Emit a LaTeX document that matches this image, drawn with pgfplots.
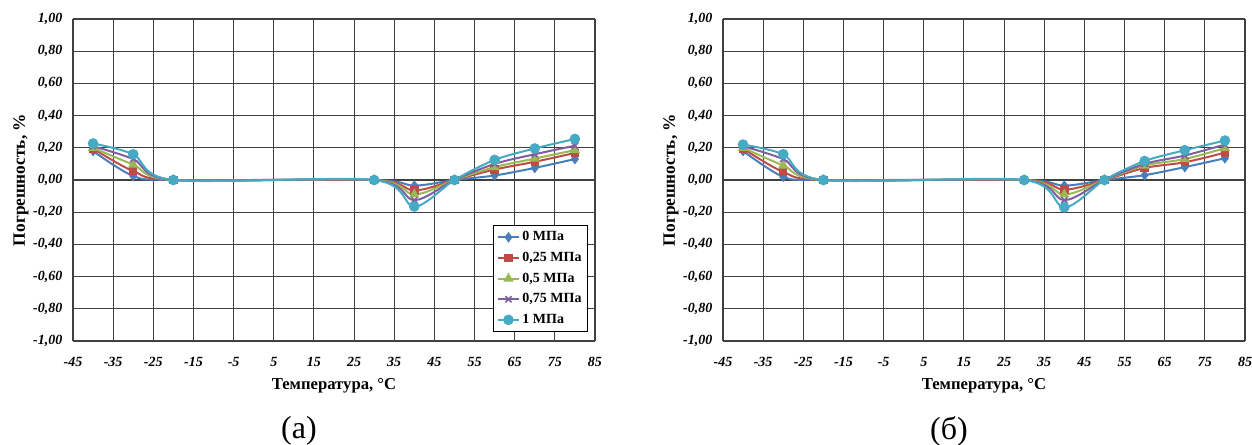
\documentclass[border=0pt]{standalone}
\usepackage{fontspec}
\setmainfont{Liberation Serif}
\usepackage{pgfplots}
\usepackage{pgfplotstable}
\pgfplotsset{compat=1.18}

\definecolor{c0}{HTML}{4A7EBB}
\definecolor{c1}{HTML}{BE4B48}
\definecolor{c2}{HTML}{98B954}
\definecolor{c3}{HTML}{7D60A0}
\definecolor{c4}{HTML}{46AAC5}

\pgfplotstableread{
x    p0     p25    p50    p75    p100
-40  0.18   0.195  0.20   0.21   0.227
-30  0.025  0.055  0.095  0.13   0.16
-20  0      0      0      0      0
30   0      0      0      0      0
40  -0.035 -0.065 -0.09  -0.125 -0.165
50   0      0      0      0      0
60   0.028  0.065  0.08   0.10   0.125
70   0.075  0.113  0.133  0.16   0.196
80   0.13   0.168  0.186  0.213  0.255
}\dataA

\pgfplotstableread{
x    p0     p25    p50    p75    p100
-40  0.18   0.195  0.20   0.21   0.22
-30  0.02   0.05   0.09   0.13   0.16
-20  0      0      0      0      0
30   0      0      0      0      0
40  -0.035 -0.06  -0.09  -0.125 -0.17
50   0      0      0      0      0
60   0.03   0.075  0.09   0.10   0.118
70   0.08   0.11   0.13   0.152  0.185
80   0.135  0.17   0.198  0.22   0.245
}\dataB

\pgfplotsset{
  errstyle/.style={
    scale only axis, width=391.5pt, height=241.5pt,
    xmin=-45, xmax=85, ymin=-1, ymax=1,
    xtick={-45,-35,-25,-15,-5,5,15,25,35,45,55,65,75,85},
    ytick={-1,-0.8,-0.6,-0.4,-0.2,0,0.2,0.4,0.6,0.8,1},
    grid=major,
    major grid style={black!75, line width=0.8pt},
    axis lines=left,
    axis line style={-, black!75, line width=1.5pt},
    major tick length=0pt,
    /pgf/number format/assume math mode=true,
    ticklabel style={font=\fontsize{10.5}{12}\selectfont\bfseries\itshape},
    yticklabel style={/pgf/number format/fixed, /pgf/number format/fixed zerofill, /pgf/number format/precision=2, /pgf/number format/use comma, xshift=-4.5pt},
    xticklabel style={yshift=-8.5pt},
    xlabel={Температура, °C},
    ylabel={Погрешность, \%},
    xlabel style={font=\fontsize{12.5}{14}\selectfont\bfseries, at={(axis description cs:0.5,-0.1398)}, anchor=center},
    ylabel style={font=\fontsize{13}{14}\selectfont\bfseries, at={(axis description cs:-0.0996,0.5)}, anchor=center},
    every axis plot/.append style={smooth, line width=1.5pt},
    legend image code/.code={\draw[mark repeat=2,mark phase=2] plot coordinates {(0cm,0cm) (0.27cm,0cm) (0.54cm,0cm)};},
  },
  s0/.style={color=c0, mark=diamond*, mark size=2.8pt},
  s1/.style={color=c1, mark=square*, mark size=2.4pt},
  s2/.style={color=c2, mark=triangle*, mark size=3pt},
  s3/.style={color=c3, mark=x, mark size=3.2pt, mark options={line width=1.2pt}},
  s4/.style={color=c4, mark=*, mark size=3.2pt},
}

\begin{document}
\begin{tikzpicture}
\path[use as bounding box] (0pt,0pt) rectangle (939pt,333.75pt);

\begin{axis}[errstyle, at={(54.75pt,78pt)}, anchor=south west,
  legend style={at={(0.9866,0.028)}, anchor=south east, draw=black, line width=0.75pt,
    font=\fontsize{10.5}{12}\selectfont\bfseries, row sep=3pt, cells={anchor=west}, inner sep=2.5pt}]
\addplot[s0] table[x=x,y=p0] {\dataA};
\addlegendentry{0 МПа}
\addplot[s1] table[x=x,y=p25] {\dataA};
\addlegendentry{0,25 МПа}
\addplot[s2] table[x=x,y=p50] {\dataA};
\addlegendentry{0,5 МПа}
\addplot[s3] table[x=x,y=p75] {\dataA};
\addlegendentry{0,75 МПа}
\addplot[s4] table[x=x,y=p100] {\dataA};
\addlegendentry{1 МПа}
\end{axis}

\begin{axis}[errstyle, at={(542.25pt,78pt)}, anchor=south west]
\addplot[s0] table[x=x,y=p0] {\dataB};
\addplot[s1] table[x=x,y=p25] {\dataB};
\addplot[s2] table[x=x,y=p50] {\dataB};
\addplot[s3] table[x=x,y=p75] {\dataB};
\addplot[s4] table[x=x,y=p100] {\dataB};
\end{axis}

\node[font=\fontsize{24}{26}\selectfont] at (224.25pt,10.5pt) {(а)};
\node[font=\fontsize{24}{26}\selectfont] at (711.75pt,10.5pt) {(б)};
\end{tikzpicture}
\end{document}
